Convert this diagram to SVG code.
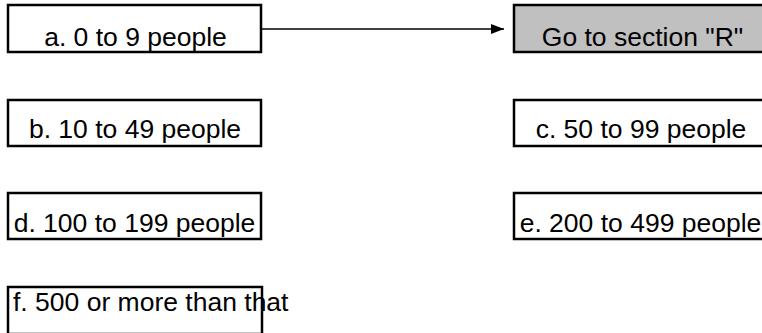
<svg xmlns="http://www.w3.org/2000/svg" width="762" height="333" viewBox="0 0 762 333">
<style>
.box{fill:#fff;stroke:#000;stroke-width:2.5}
.grey{fill:#c0c0c0}
.t{font-family:"Liberation Sans",Arial,sans-serif;font-size:26.5px;fill:#000}
.m{text-anchor:middle}
.line{stroke:#000;stroke-width:1.3;fill:none}
</style>
<defs>
<marker id="arr" markerWidth="13" markerHeight="10" refX="13" refY="5" orient="auto" markerUnits="userSpaceOnUse">
<path d="M0,0 L13,5 L0,10 Z" fill="#000"/>
</marker>
</defs>
<g id="connectors">
<line class="line" x1="262" y1="29" x2="504" y2="29" marker-end="url(#arr)"/>
</g>
<g id="node-a">
<rect class="box" x="8" y="5" width="253" height="47"/>
<text class="t m" x="135.5" y="46">a. 0 to 9 people</text>
</g>
<g id="node-r">
<rect class="box grey" x="514" y="5" width="258" height="47"/>
<text class="t m" x="642.5" y="46">Go to section "R"</text>
</g>
<g id="node-b">
<rect class="box" x="8" y="100" width="253" height="46"/>
<text class="t m" x="135" y="138">b. 10 to 49 people</text>
</g>
<g id="node-c">
<rect class="box" x="514" y="100" width="258" height="46"/>
<text class="t m" x="641" y="138">c. 50 to 99 people</text>
</g>
<g id="node-d">
<rect class="box" x="8" y="193" width="253" height="46"/>
<text class="t m" x="134.5" y="232">d. 100 to 199 people</text>
</g>
<g id="node-e">
<rect class="box" x="514" y="193" width="258" height="46"/>
<text class="t m" x="640.5" y="232">e. 200 to 499 people</text>
</g>
<g id="node-f">
<rect class="box" x="8" y="287" width="254" height="47"/>
<text class="t" x="13" y="311">f. 500 or more than that</text>
</g>
</svg>
